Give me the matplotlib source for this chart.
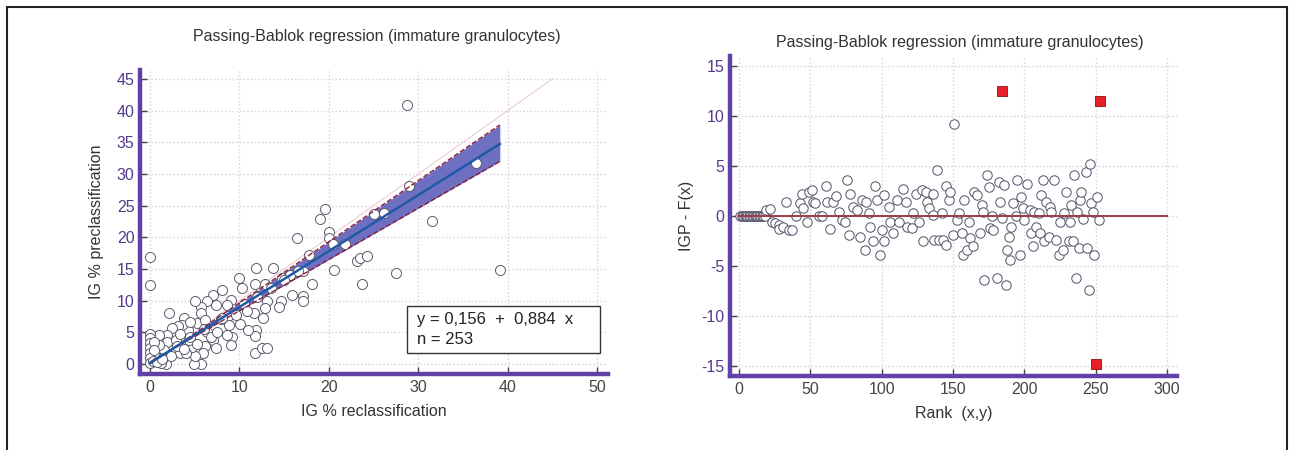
import numpy as np
import matplotlib
matplotlib.use("Agg")
import matplotlib.pyplot as plt
from matplotlib.patches import Rectangle

plt.rcParams['font.family'] = ['Liberation Sans', 'DejaVu Sans']
plt.rcParams['axes.unicode_minus'] = False

# --- left panel: IG % reclassification vs preclassification ---
x_recl = [0, 0, 28.7, 36.4, 29.0, 19.6, 19.0, 25.0, 26.2, 31.5, 20.0, 20.0, 16.4, 20.5,
          21.8, 17.8, 39.1, 20.6, 23.1, 23.5, 24.3, 27.5, 23.7, 17.1, 18.1, 14.7, 15.7,
          15.9, 17.1, 17.1, 11.8, 13.7, 11.7, 12.8, 9.9, 10.3, 14.6, 14.4, 13.1, 12.8,
          11.6, 12.6, 11.8, 11.7, 11.7, 12.5, 13.1, 10.9, 10.1, 9.1, 8.1, 8.6, 8.7, 8.8,
          9.2, 9.1, 8.6, 7.9, 7.4, 7.0, 6.4, 5.7, 5.0, 5.7, 5.3, 6.1, 6.4, 7.0, 7.4, 6.2,
          5.9, 5.7, 4.9, 5.0, 4.7, 4.4, 4.2, 3.8, 3.6, 3.1, 2.5, 2.1, 1.9, 1.9, 1.6, 1.8,
          1.2, 0.8, 0.6, 1.0, 1.0, 0, 0, 0, 0, 0, 0, 0, 0.4, 0.4, 2.9, 3.4, 4.0, 2.9, 3.4,
          4.5, 12.0, 13.5, 15.0, 16.5, 10.5, 8.0, 6.0, 4.5, 3.0, 1.5, 2.3, 3.8, 5.2, 6.8,
          7.5, 9.6, 10.8, 0.3, 0.8, 1.3]
y_precl = [16.9, 12.4, 40.9, 31.7, 28.1, 24.4, 22.9, 23.6, 23.9, 22.6, 20.9, 19.9, 19.9,
           19.0, 19.0, 17.2, 14.9, 14.9, 16.3, 16.7, 17.1, 14.3, 12.6, 14.6, 12.6, 13.5,
           14.1, 10.9, 10.7, 9.9, 15.2, 15.2, 12.7, 12.7, 13.6, 12.0, 9.9, 9.0, 9.9, 8.8,
           8.1, 7.2, 5.4, 4.4, 1.8, 2.5, 2.5, 5.4, 6.3, 10.1, 11.6, 9.3, 7.5, 6.2, 4.3,
           3.0, 4.6, 7.1, 9.3, 10.9, 9.9, 9.0, 9.9, 8.0, 6.4, 7.0, 5.1, 3.8, 2.5, 2.8,
           1.7, 0, 0, 1.2, 2.7, 3.8, 5.4, 7.2, 6.2, 6.0, 5.6, 8.0, 4.6, 3.5, 2.2, 0, 0.1,
           0.4, 1.2, 3.0, 4.6, 4.8, 4.1, 3.3, 2.5, 1.7, 0.9, 0.1, 3.5, 2.2, 2.2, 1.7, 1.7,
           3.8, 4.8, 6.6, 10.5, 12.0, 13.3, 14.7, 9.5, 7.3, 5.5, 4.2, 2.8, 1.0, 1.2, 2.4,
           3.1, 4.3, 5.0, 7.8, 8.4, 0.5, 0.3, 0.8]

# regression coefficients and confidence limits
a_fit, b_fit = 0.156, 0.884
a_hi, b_hi = 0.0, 0.965
a_lo, b_lo = 0.30, 0.81
x_fit_max = 39.1

# --- right panel: residuals by rank ---
rank = [1, 2, 3, 4, 5, 6, 7, 8, 9, 10, 11, 12, 13, 14, 15, 16, 17, 18,
        19, 22, 23, 25, 28, 28, 31, 33, 35, 37, 40, 43, 44, 45, 48, 49, 51, 52, 53, 56,
        58, 61, 62, 64, 66, 68, 70, 72, 74, 76, 77, 78, 80, 83, 85, 86, 88, 89, 91, 92,
        94, 95, 97, 99, 100, 102, 102, 105, 106, 108, 111, 112, 115, 117, 118, 121, 122,
        124, 126, 128, 129, 131, 132, 133, 136, 136, 137, 139, 140, 142, 143, 145, 145,
        147, 148, 150, 151, 153, 154, 156, 157, 158, 160, 161, 162, 164, 165, 167, 169,
        170, 171, 172, 174, 175, 176, 177, 178, 181, 182, 183, 184, 186, 187, 188, 189,
        190, 191, 192, 194, 195, 197, 198, 199, 200, 202, 204, 205, 206, 207, 208, 210,
        211, 212, 213, 214, 215, 217, 218, 219, 221, 222, 224, 225, 227, 228, 229, 231,
        232, 233, 234, 235, 236, 237, 238, 239, 240, 241, 243, 244, 245, 246, 247, 248,
        249, 251, 252]
resid = [0, 0, 0, 0, 0, 0, 0, 0, 0, 0, 0, 0, 0, 0, 0, 0, 0, 0,
         0.6, 0.7, -0.6, -0.7, -0.9, -1.3, -1.1, 1.4, -1.4, -1.4, 0, 1.3, 2.2, 0.8, -0.6,
         2.4, 2.6, 1.4, 1.3, 0, 0, 3.0, 1.4, -1.3, 1.4, 2.0, 0.4, -0.4, -0.6, 3.6, -1.9,
         2.2, 0.9, 0.6, -2.1, 1.6, -3.4, 1.4, 0.3, -1.1, -2.5, 3.0, 1.6, -3.9, -1.4, 2.1,
         -2.5, 0.9, -0.6, -1.7, 1.6, -0.6, 2.7, 1.4, -1.1, -1.2, 0.3, 2.2, -0.6, 2.6, -2.5,
         2.4, 1.4, 0.8, 0.1, 2.2, -2.4, 4.6, -2.4, 0.3, -2.4, -2.9, 3.0, 1.6, 2.4, -1.9,
         9.2, -0.4, 0.3, -1.7, -3.9, 1.6, -3.4, -0.6, -2.2, -3.0, 2.4, 2.1, -1.7, 1.1,
         0.4, -6.4, 4.1, 2.9, -1.2, 0, -1.4, -6.2, 3.4, 1.4, -0.2, 3.1, -6.9, -3.4, -2.1,
         -4.4, -1.1, 1.3, 0, 3.6, -3.9, 1.9, 0.8, -0.4, 3.2, 0.6, -1.7, -3.0, 0.4, -1.1,
         0.3, -1.7, 2.1, 3.6, -2.5, 1.4, -2.1, 0.9, 0.4, 3.6, -2.4, -3.9, -0.6, -3.4, 0.3,
         2.4, -2.5, -0.6, 1.1, -2.5, 4.1, -6.2, 0.4, -3.2, 1.6, 2.4, -0.3, 4.4, -3.2, -7.4,
         5.2, 1.3, 0.4, -3.9, 1.9, -0.4]
out_rank = [184, 250, 253]
out_resid = [12.5, -14.8, 11.5]

title = "Passing-Bablok regression (immature granulocytes)"
purple = '#6240a8'
tick_purple = '#553a8c'
grid_col = '#dccfdc'


def style_axes(ax):
    for side in ['top', 'right']:
        ax.spines[side].set_visible(False)
    for side in ['left', 'bottom']:
        ax.spines[side].set_color(purple)
        ax.spines[side].set_linewidth(3.2)
    ax.tick_params(direction='in', length=5, width=1, color='#444444',
                   labelsize=11.5, pad=4)
    ax.tick_params(axis='y', labelcolor=tick_purple)
    ax.tick_params(axis='x', labelcolor='#444444')
    ax.grid(True, linestyle=':', color=grid_col, linewidth=1)
    ax.set_axisbelow(True)


fig = plt.figure(figsize=(12.94, 4.5), dpi=100)

# outer frame
fig.patches.append(Rectangle((7 / 1294, -0.1), 1280 / 1294, 1.1 - 7 / 450,
                             transform=fig.transFigure, fill=False,
                             edgecolor='#222222', linewidth=1.5))

# left panel
ax1 = fig.add_axes([0.1082, 0.1689, 0.3617, 0.6756])
style_axes(ax1)
ax1.set_xlim(-1.12, 51.2)
ax1.set_ylim(-1.58, 46.4)
ax1.set_xticks(np.arange(0, 51, 10))
ax1.set_yticks(np.arange(0, 46, 5))

xx = np.linspace(0, x_fit_max, 100)
ax1.plot([0, 45], [0, 45], color='#ecccd2', linewidth=0.8, zorder=1)
ax1.fill_between(xx, a_lo + b_lo * xx, a_hi + b_hi * xx, color='#6f6fc2',
                 linewidth=0, zorder=1)
ax1.scatter(x_recl, y_precl, s=52, facecolors='white', edgecolors='#5a5a6a',
            linewidths=0.7, zorder=2)
ax1.plot(xx, a_hi + b_hi * xx, color='#8a1c3c', linestyle='--', linewidth=1,
         zorder=3)
ax1.plot(xx, a_lo + b_lo * xx, color='#8a1c3c', linestyle='--', linewidth=1,
         zorder=3)
ax1.plot(xx, a_fit + b_fit * xx, color='#1f5aa8', linewidth=1.8, zorder=3)

ax1.add_patch(Rectangle((0.5705, 0.069), 0.4125, 0.155, transform=ax1.transAxes,
                        facecolor='white', edgecolor='#333333', linewidth=1,
                        zorder=5))
ax1.text(0.592, 0.178, "y = 0,156  +  0,884  x", transform=ax1.transAxes,
         fontsize=12, color='#222222', va='center', zorder=6)
ax1.text(0.592, 0.115, "n = 253", transform=ax1.transAxes,
         fontsize=12, color='#222222', va='center', zorder=6)

ax1.set_xlabel("IG % reclassification", fontsize=11.5, color='#333333',
               labelpad=7)
ax1.set_ylabel("IG % preclassification", fontsize=11.5, color='#333333',
               labelpad=9)
fig.text(377 / 1294, 1 - 37 / 450, title, ha='center', va='center',
         fontsize=11.5, color='#333333')

# right panel
ax2 = fig.add_axes([0.5641, 0.1644, 0.3454, 0.7111])
style_axes(ax2)
ax2.set_xlim(-6.3, 306.9)
ax2.set_ylim(-16, 16)
ax2.set_xticks(np.arange(0, 301, 50))
ax2.set_yticks(np.arange(-15, 16, 5))

ax2.scatter(rank, resid, s=46, facecolors='white', edgecolors='#505068',
            linewidths=0.7, zorder=2)
ax2.plot([0, 300], [0, 0], color='#9e3a48', linewidth=1.4, zorder=3)
ax2.scatter(out_rank, out_resid, s=56, marker='s', facecolors='#e8202a',
            edgecolors='#8a1010', linewidths=0.6, zorder=4)

ax2.set_xlabel("Rank  (x,y)", fontsize=11.5, color='#333333', labelpad=7)
ax2.set_ylabel("IGP - F(x)", fontsize=11.5, color='#333333', labelpad=5)
fig.text(960 / 1294, 1 - 42 / 450, title, ha='center', va='center',
         fontsize=11.5, color='#333333')

plt.savefig("out.png", dpi=100)
plt.close()
